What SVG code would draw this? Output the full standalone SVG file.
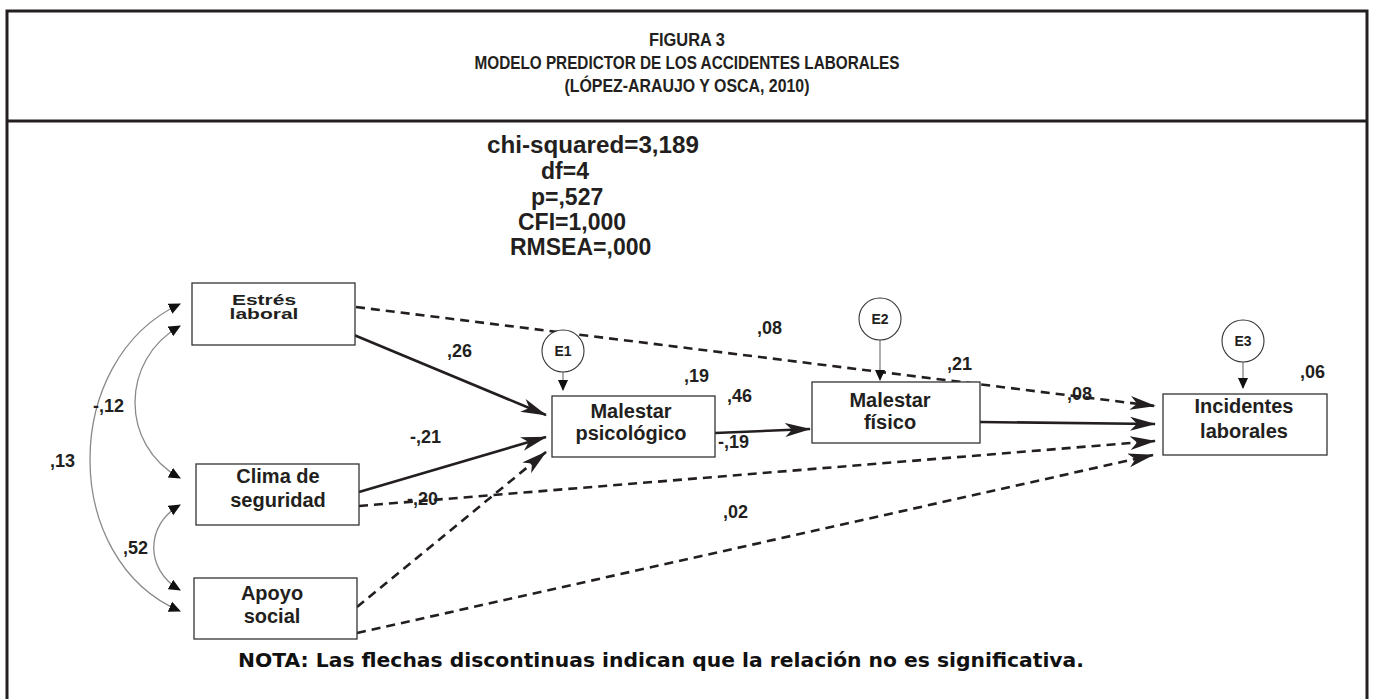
<svg xmlns="http://www.w3.org/2000/svg" width="1373" height="699" viewBox="0 0 1373 699">
<style>
.frame{fill:none;stroke:#231f20;stroke-width:3}
.box{fill:#fff;stroke:#333;stroke-width:1.3}
.ell{fill:#fff;stroke:#333;stroke-width:1.1}
.nt{font-family:"Liberation Sans",Arial,sans-serif;font-weight:bold;font-size:20px;fill:#231f20;text-anchor:middle}
.et{font-family:"Liberation Sans",Arial,sans-serif;font-weight:bold;font-size:14px;fill:#231f20;text-anchor:middle}
.lb{font-family:"Liberation Sans",Arial,sans-serif;font-weight:bold;font-size:18px;fill:#231f20}
.st{font-family:"Liberation Sans",Arial,sans-serif;font-weight:bold;font-size:23px;fill:#231f20}
.ti{font-family:"Liberation Sans",Arial,sans-serif;font-weight:bold;font-size:19px;fill:#231f20;text-anchor:middle}
.nota{font-family:"DejaVu Sans",Verdana,sans-serif;font-weight:bold;font-size:20px;fill:#111}
.solid{fill:none;stroke:#231f20;stroke-width:2.6;marker-end:url(#big)}
.dash{fill:none;stroke:#231f20;stroke-width:2.6;stroke-dasharray:9 6;marker-end:url(#big)}
.cov{fill:none;stroke:#8a8a8a;stroke-width:1.3;marker-start:url(#triS);marker-end:url(#tri)}
.err{fill:none;stroke:#777;stroke-width:1.2;marker-end:url(#small)}
</style>
<defs>
<marker id="big" markerUnits="userSpaceOnUse" markerWidth="28" markerHeight="16" refX="25" refY="7" orient="auto">
<path d="M0,0 L26,7 L0,14 L7,7 z" fill="#231f20"/>
</marker>
<marker id="tri" markerUnits="userSpaceOnUse" markerWidth="14" markerHeight="12" refX="11" refY="5.5" orient="auto">
<path d="M0,0 L12,5.5 L0,11 z" fill="#111"/>
</marker>
<marker id="triS" markerUnits="userSpaceOnUse" markerWidth="14" markerHeight="12" refX="11" refY="5.5" orient="auto-start-reverse">
<path d="M0,0 L12,5.5 L0,11 z" fill="#111"/>
</marker>
<marker id="small" markerUnits="userSpaceOnUse" markerWidth="12" markerHeight="12" refX="10" refY="5" orient="auto">
<path d="M0,0 L11,5 L0,10 z" fill="#111"/>
</marker>
</defs>
<rect width="1373" height="699" fill="#fff"/>
<g id="frame">
<path class="frame" d="M7,700 V11 H1367 V700"/>
<line class="frame" x1="7" y1="121" x2="1367" y2="121"/>
</g>
<g id="title">
<text class="ti" x="687" y="46" textLength="76" lengthAdjust="spacingAndGlyphs">FIGURA 3</text>
<text class="ti" x="687" y="69" textLength="425" lengthAdjust="spacingAndGlyphs">MODELO PREDICTOR DE LOS ACCIDENTES LABORALES</text>
<text class="ti" x="687" y="92" textLength="245" lengthAdjust="spacingAndGlyphs">(LÓPEZ-ARAUJO Y OSCA, 2010)</text>
</g>
<g id="fit-stats">
<text class="st" x="487" y="153" textLength="212" lengthAdjust="spacingAndGlyphs">chi-squared=3,189</text>
<text class="st" x="541" y="179">df=4</text>
<text class="st" x="531" y="205">p=,527</text>
<text class="st" x="518" y="230">CFI=1,000</text>
<text class="st" x="510" y="255">RMSEA=,000</text>
</g>
<g id="connectors">
<path class="solid" d="M354,335 L546,415"/>
<path class="solid" d="M359,492 L546,437"/>
<path class="solid" d="M715,433 L810,429"/>
<path class="solid" d="M980,422 L1155,424"/>
<path class="dash" d="M356,307 L1155,406"/>
<path class="dash" d="M359,506 L1155,441"/>
<path class="dash" d="M357,607 L546,452"/>
<path class="dash" d="M357,633 L1153,455"/>
<path class="cov" d="M180,304 C60,360 60,560 180,611"/>
<path class="cov" d="M180,326 C120,360 120,445 180,478"/>
<path class="cov" d="M180,505 C145,525 145,570 180,590"/>
<path class="err" d="M563,372 L563,390"/>
<path class="err" d="M880,340 L880,380"/>
<path class="err" d="M1243,362 L1243,388"/>
</g>
<g id="labels">
<text class="lb" x="447" y="357">,26</text>
<text class="lb" x="410" y="443">-,21</text>
<text class="lb" x="407" y="505">-,20</text>
<text class="lb" x="684" y="382">,19</text>
<text class="lb" x="727" y="402">,46</text>
<text class="lb" x="718" y="448">-,19</text>
<text class="lb" x="723" y="518">,02</text>
<text class="lb" x="947" y="370">,21</text>
<text class="lb" x="1300" y="378">,06</text>
<text class="lb" x="757" y="334">,08</text>
<text class="lb" x="1067" y="400">,08</text>
<text class="lb" x="93" y="412">-,12</text>
<text class="lb" x="50" y="467">,13</text>
<text class="lb" x="123" y="554">,52</text>
</g>
<g id="estres">
<rect class="box" x="192" y="283" width="163" height="62"/>
<text class="nt" transform="translate(264,305) scale(1.05,0.72)">Estrés</text>
<text class="nt" transform="translate(264,319) scale(1.05,0.72)">laboral</text>
</g>
<g id="clima">
<rect class="box" x="196" y="464" width="163" height="61"/>
<text class="nt" x="278" y="483">Clima de</text>
<text class="nt" x="278" y="507">seguridad</text>
</g>
<g id="apoyo">
<rect class="box" x="194" y="578" width="163" height="61"/>
<text class="nt" x="272" y="600">Apoyo</text>
<text class="nt" x="272" y="623">social</text>
</g>
<g id="psicologico">
<rect class="box" x="552" y="396" width="163" height="61"/>
<text class="nt" x="631" y="418">Malestar</text>
<text class="nt" x="631" y="440">psicológico</text>
</g>
<g id="fisico">
<rect class="box" x="812" y="382" width="168" height="61"/>
<text class="nt" x="890" y="407">Malestar</text>
<text class="nt" x="890" y="429">físico</text>
</g>
<g id="incidentes">
<rect class="box" x="1163" y="394" width="164" height="61"/>
<text class="nt" x="1244" y="413">Incidentes</text>
<text class="nt" x="1244" y="438">laborales</text>
</g>
<g id="e1">
<circle class="ell" cx="563" cy="351" r="21"/>
<text class="et" x="563" y="356">E1</text>
</g>
<g id="e2">
<circle class="ell" cx="880" cy="319" r="21"/>
<text class="et" x="880" y="324">E2</text>
</g>
<g id="e3">
<circle class="ell" cx="1243" cy="341" r="21"/>
<text class="et" x="1243" y="346">E3</text>
</g>
<g id="nota">
<text class="nota" x="238" y="667" textLength="846" lengthAdjust="spacingAndGlyphs">NOTA: Las flechas discontinuas indican que la relación no es significativa.</text>
</g>
</svg>
